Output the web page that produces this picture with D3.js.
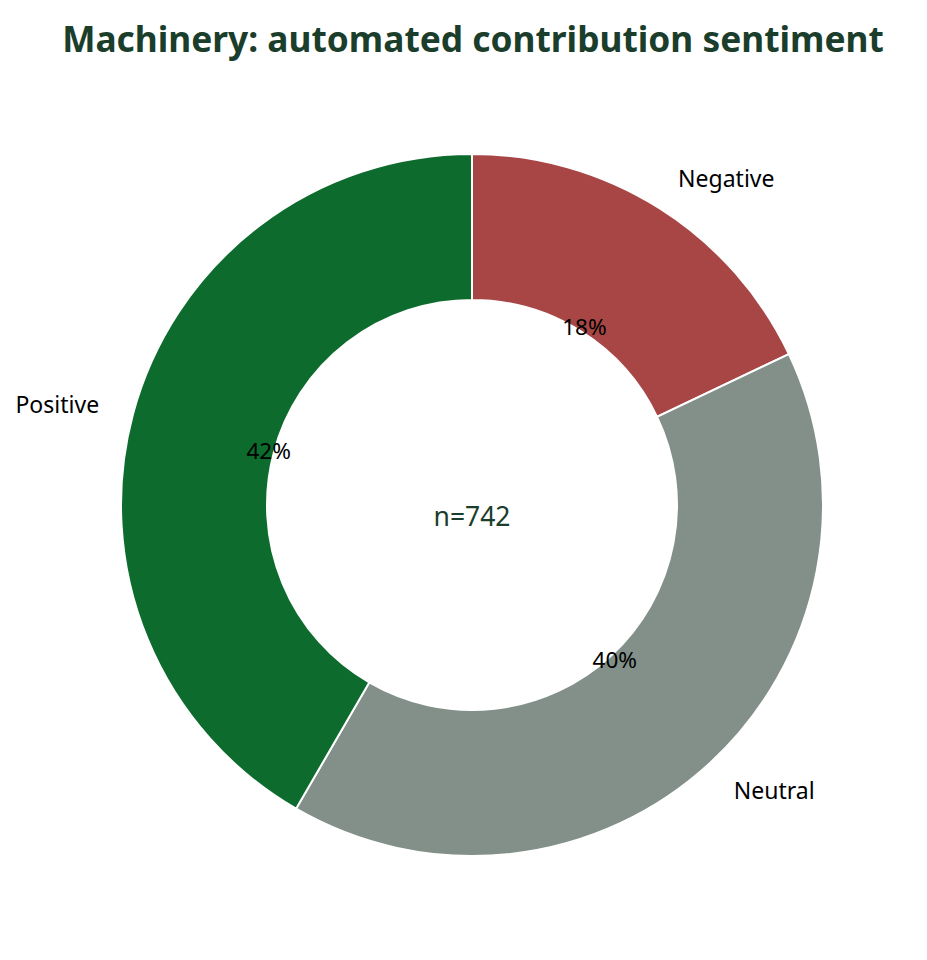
<!DOCTYPE html>
<html>
<head>
<meta charset="utf-8">
<script src="https://cdn.jsdelivr.net/npm/d3@7"></script>
<style>
  body { margin: 0; background: #fff; }
  text { font-family: "Noto Sans", sans-serif; }
</style>
</head>
<body>
<div id="chart"></div>
<script>
// sentiment counts, clockwise from 12 o'clock
var categories = ["Negative", "Neutral", "Positive"];
var counts = [133, 300, 309];
var colors = ["#a84646", "#829089", "#0d6b2d"];
var title = "Machinery: automated contribution sentiment";

var width = 927, height = 960;
var cx = 472, cy = 505;
var outerR = 351, innerR = 205;

var svg = d3.select("#chart").append("svg")
    .attr("width", width)
    .attr("height", height);

svg.append("text")
    .attr("x", 473)
    .attr("y", 52)
    .attr("text-anchor", "middle")
    .style("font-size", "35.3px")
    .style("font-weight", "bold")
    .style("fill", "#1b3d2b")
    .text(title);

var total = d3.sum(counts);
var data = categories.map(function(c, i) {
    return { name: c, value: counts[i], color: colors[i] };
});

var pie = d3.pie()
    .sort(null)
    .value(function(d) { return d.value; });

var arc = d3.arc()
    .innerRadius(innerR)
    .outerRadius(outerR);

var g = svg.append("g")
    .attr("transform", "translate(" + cx + "," + cy + ")");

var arcs = pie(data);

g.selectAll("path")
    .data(arcs)
    .enter()
    .append("path")
    .attr("d", arc)
    .style("fill", function(d) { return d.data.color; })
    .style("stroke", "#fff")
    .style("stroke-width", 2);

function mid(d) { return (d.startAngle + d.endAngle) / 2; }

// percent labels at 0.6 of radius
g.selectAll(".pct")
    .data(arcs)
    .enter()
    .append("text")
    .attr("class", "pct")
    .attr("x", function(d) { return 0.6 * outerR * Math.sin(mid(d)); })
    .attr("y", function(d) { return -0.6 * outerR * Math.cos(mid(d)); })
    .attr("dy", "0.38em")
    .attr("text-anchor", "middle")
    .style("font-size", "22.5px")
    .style("fill", "#000")
    .text(function(d) { return Math.round(d.data.value / total * 100) + "%"; });

// category labels at 1.1 of radius
g.selectAll(".lbl")
    .data(arcs)
    .enter()
    .append("text")
    .attr("class", "lbl")
    .attr("x", function(d) { return 1.1 * outerR * Math.sin(mid(d)); })
    .attr("y", function(d) { return -1.1 * outerR * Math.cos(mid(d)); })
    .attr("dy", function(d) { return Math.cos(mid(d)) < 0 ? "0.45em" : "0.35em"; })
    .attr("text-anchor", function(d) {
        return Math.sin(mid(d)) < 0 ? "end" : "start";
    })
    .style("font-size", "23px")
    .style("fill", "#000")
    .text(function(d) { return d.data.name; });

g.append("text")
    .attr("x", 0)
    .attr("y", 12)
    .attr("dy", "0.35em")
    .attr("text-anchor", "middle")
    .style("font-size", "26.5px")
    .style("fill", "#1b3d2b")
    .text("n=" + total);
</script>
</body>
</html>
